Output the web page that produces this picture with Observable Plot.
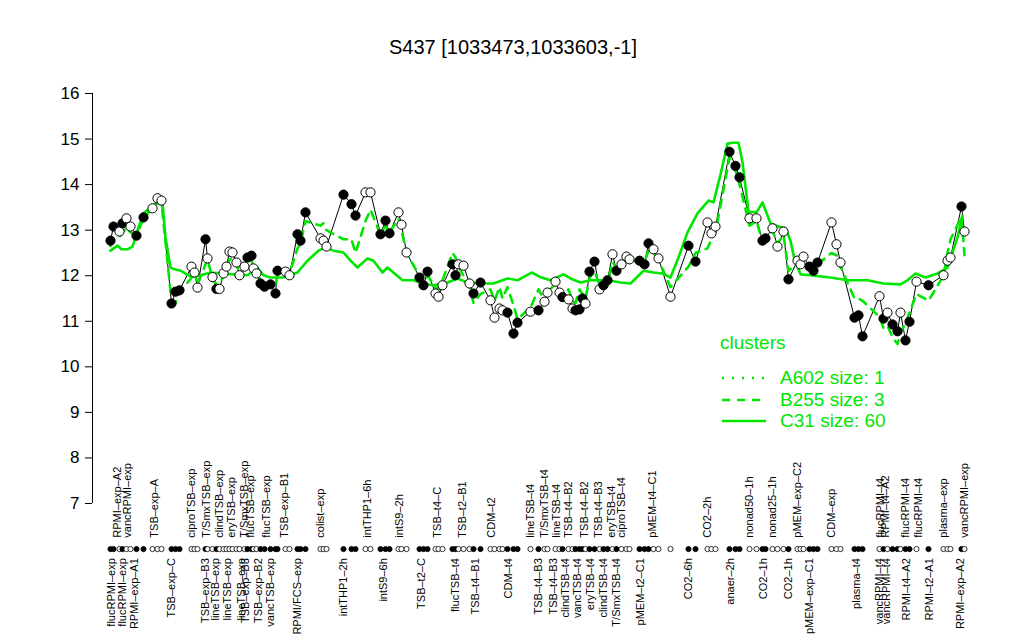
<!DOCTYPE html>
<html><head><meta charset="utf-8">
<script src="https://cdn.jsdelivr.net/npm/d3@7"></script>
<script src="https://cdn.jsdelivr.net/npm/@observablehq/plot@0.6"></script>
<style>
body{margin:0;background:#fff;font-family:"Liberation Sans",Arial,Helvetica,sans-serif;}
#wrap{position:relative;width:1024px;height:640px;overflow:hidden;}
.lg{position:absolute;color:#00e600;font-size:19px;line-height:20px;white-space:nowrap;}
.lgl{position:absolute;}
</style></head><body><div id="wrap"></div>
<script>
const title = "S437 [1033473,1033603,-1]";
const GREEN = "#00e600";

// sample positions (order along x) and values
const pos = [10,13,19,22,26,30,36,43,52,57,61,71,75,79,91,94,97,105,107,112,116,119,123,126,129,132,136,139,144,147,151,153,156,160,164,170,175,177,185,189,197,200,205,220,223,226,243,251,255,265,270,280,285,289,298,301,306,319,323,327,335,338,342,352,355,358,363,369,373,380,390,394,399,402,407,413,417,430,438,444,447,455,459,462,468,472,475,479,482,485,489,494,499,503,507,512,516,521,526,529,539,544,548,553,558,570,588,595,607,611,615,629,635,639,649,656,662,665,672,677,683,688,697,700,703,709,713,717,731,736,740,754,758,762,779,783,787,792,797,800,805,809,816,828,843,847,850,861,864];
const value = [12.77,13.08,12.97,13.15,13.26,13.08,12.88,13.28,13.48,13.70,13.65,11.39,11.65,11.68,12.20,12.07,11.74,12.80,12.38,11.97,11.71,11.71,12.05,12.20,12.53,12.51,12.29,12.01,12.20,12.40,12.44,12.16,12.05,11.83,11.76,11.81,11.61,12.11,12.09,12.01,12.91,12.77,13.39,12.82,12.77,12.64,13.78,13.57,13.32,13.83,13.83,12.91,13.21,12.93,13.39,13.12,12.51,11.96,11.79,12.09,11.61,11.54,11.79,12.25,12.01,12.25,12.22,11.83,11.61,11.85,11.46,11.08,11.28,11.24,11.19,10.73,10.97,11.21,11.24,11.43,11.63,11.87,11.63,11.53,11.48,11.28,11.24,11.26,11.50,11.39,12.09,12.31,11.70,11.79,11.90,12.47,12.11,12.25,12.42,12.36,12.33,12.25,12.71,12.58,12.38,11.54,12.66,12.31,13.17,12.93,13.08,14.72,14.41,14.16,13.26,13.26,12.77,12.82,13.04,12.64,12.97,11.92,12.33,12.25,12.42,12.20,12.11,12.29,13.17,12.69,12.29,11.08,11.13,10.67,11.55,11.06,11.19,10.93,10.78,11.19,10.58,10.99,11.87,11.79,12.01,12.33,12.40,13.52,12.97];
const filled = [1,1,0,1,0,0,1,1,0,0,0,1,1,1,0,0,0,1,0,0,1,0,0,0,0,0,0,0,0,1,1,0,0,1,1,1,1,1,0,0,1,1,1,0,0,0,1,1,1,0,0,1,1,1,0,0,0,1,1,1,0,0,0,1,1,0,0,0,1,1,0,0,0,0,1,1,1,0,1,0,0,0,0,1,0,0,1,1,1,0,1,1,0,1,1,0,1,0,0,0,1,1,1,0,0,0,1,1,0,0,0,1,1,1,0,0,1,1,0,0,0,1,0,0,0,1,1,1,0,0,0,1,1,1,0,1,0,1,1,0,1,1,0,1,0,0,0,1,0];

// cluster profiles
const b255 = [12.65,12.8,12.85,12.95,13.05,12.95,12.9,13.25,13.5,13.65,13.6,11.45,11.4,11.65,11.95,12.1,11.8,12.25,12.35,11.95,11.8,11.8,12.0,12.15,12.35,12.4,12.25,12.05,12.15,12.3,12.35,12.15,12.05,11.9,11.85,11.85,11.75,12.05,12.1,12.05,12.6,12.7,13.2,13.1,13.15,13.0,12.8,12.8,12.5,13.2,13.45,12.9,13.1,12.95,13.25,13.0,12.5,12.0,11.85,12.0,11.75,11.7,11.9,12.5,12.4,12.2,12.0,11.8,11.4,11.6,11.7,11.45,11.75,11.5,11.75,11.35,11.05,11.3,11.7,11.45,11.6,11.85,11.65,11.55,11.7,11.45,11.4,11.7,11.6,11.5,11.95,12.1,11.8,11.75,11.8,12.3,12.15,12.25,12.4,12.35,12.3,12.3,12.55,12.5,12.35,11.75,12.2,12.5,12.6,12.8,12.95,14.6,14.3,14.0,13.1,13.2,12.75,12.8,13.0,12.7,12.9,12.1,12.3,12.3,12.35,12.2,12.15,12.25,12.5,12.45,12.2,11.5,11.5,11.45,11.1,10.85,10.9,10.65,10.5,10.75,10.95,11.2,11.6,11.45,12.0,12.5,12.8,13.3,12.45];
const c31Pos = [10,17,21,27,32,35,38,43,50,57,62,65,70,74,80,90,100,110,123,133,147,157,163,170,183,197,207,218,225,233,243,250,257,267,273,282,287,302,313,322,333,347,357,367,382,393,407,417,431,441,450,463,470,480,490,507,520,530,543,553,562,570,578,587,597,608,613,620,627,632,638,642,648,656,662,670,678,685,690,694,700,710,730,747,767,783,800,807,815,825,837,847,857,862];
const c31Val = [12.55,12.66,12.58,12.58,12.64,12.84,13.06,13.37,13.50,13.59,13.59,12.84,12.18,12.14,12.11,11.98,12.01,12.07,12.05,12.03,12.01,12.18,12.01,11.96,11.96,12.07,12.33,12.55,12.62,12.55,12.51,12.33,12.18,12.38,12.33,12.07,12.18,11.90,11.90,11.83,11.79,11.85,11.94,11.85,11.83,11.83,11.94,11.90,12.07,11.96,11.90,12.03,11.94,11.85,11.90,11.90,11.85,11.83,12.11,12.07,12.05,11.96,12.40,12.95,13.37,13.65,13.61,14.22,14.90,14.92,14.92,14.49,13.41,13.39,13.61,13.15,13.08,13.04,12.77,12.36,12.03,12.01,11.96,11.90,11.90,11.83,11.81,11.90,12.05,11.96,12.05,12.18,12.84,13.32];

// axis labels along the sample strip
const topLabelText = ["RPMI\u2013exp\u2013A2","vancRPMI\u2013exp","TSB\u2013exp\u2013A","ciproTSB\u2013exp","T/SmxTSB\u2013exp","clindTSB\u2013exp","eryTSB\u2013exp","T/SmxTSB\u2013exp","flucTSB\u2013exp","flucTSB\u2013exp","TSB\u2013exp\u2013B1","colist\u2013exp","intTHP1\u20136h","intS9\u20132h","TSB\u2013t4\u2013C","TSB\u2013t2\u2013B1","CDM\u2013t2","lineTSB\u2013t4","T/SmxTSB\u2013t4","lineTSB\u2013t4","TSB\u2013t4\u2013B2","TSB\u2013t4\u2013B2","TSB\u2013t4\u2013B3","eryTSB\u2013t4","ciproTSB\u2013t4","pMEM\u2013t4\u2013C1","CO2\u20132h","nonad50\u20131h","nonad25\u20131h","pMEM\u2013exp\u2013C2","CDM\u2013exp","flucRPMI\u2013t4","RPMI\u2013t4\u2013A2","flucRPMI\u2013t4","flucRPMI\u2013t4","plasma\u2013exp","vancRPMI\u2013exp"];
const topLabelPos = [17,27,54,91,106,119,131,144,150,166,184,220,267,299,337,362,391,430,444,456,468,484,498,511,521,552,607,649,672,697,731,780,785,805,818,843,864];
const bottomLabelText = ["flucRPMI\u2013exp","flucRPMI\u2013exp","RPMI\u2013exp\u2013A1","TSB\u2013exp\u2013C","TSB\u2013exp\u2013B3","lineTSB\u2013exp","lineTSB\u2013exp","lineTSB\u2013exp","TSB\u2013exp\u2013B3","TSB\u2013exp\u2013B2","vancTSB\u2013exp","RPMI/FCS\u2013exp","intTHP1\u20132h","intS9\u20136h","TSB\u2013t2\u2013C","flucTSB\u2013t4","TSB\u2013t4\u2013B1","CDM\u2013t4","TSB\u2013t4\u2013B3","TSB\u2013t4\u2013B3","clindTSB\u2013t4","vancTSB\u2013t4","eryTSB\u2013t4","clindTSB\u2013t4","T/SmxTSB\u2013t4","pMEM\u2013t2\u2013C1","CO2\u20136h","anaer\u20132h","CO2\u20131h","CO2\u20131h","pMEM\u2013exp\u2013C1","plasma\u2013t4","vancRPMI\u2013t4","vancRPMI\u2013t4","RPMI\u2013t4\u2013A2","RPMI\u2013t2\u2013A1","RPMI\u2013exp\u2013A2"];
const bottomLabelPos = [11,22,34,71,105,115,127,141,145,158,170,197,243,283,321,355,375,408,438,453,465,477,490,503,516,540,588,630,663,688,709,756,779,786,806,829,860];

const legendNames = ["A602 size: 1","B255 size: 3","C31 size: 60"];
const legendDash = ["2,8","8,7",null];
const yTicks = [7,8,9,10,11,12,13,14,15,16];

const points = pos.map((p,i)=>({pos:p, value:value[i], filled:filled[i], b255:b255[i]}));
const c31 = c31Pos.map((p,i)=>({pos:p, value:c31Val[i]}));
const topLabels = topLabelText.map((t,i)=>({text:t, pos:topLabelPos[i]}));
const bottomLabels = bottomLabelText.map((t,i)=>({text:t, pos:bottomLabelPos[i]}));
const xDomain = [-8, 875];

const chart = Plot.plot({
  width: 1024, height: 640,
  marginLeft: 92, marginRight: 49, marginTop: 93, marginBottom: 137,
  x: {domain: xDomain, axis: null},
  y: {domain: [7, 16]},
  style: {fontFamily: "'Liberation Sans', Arial, Helvetica, sans-serif", background: "white", color: "black"},
  marks: [
    Plot.axisY(yTicks, {anchor: "left", tickSize: 7, tickPadding: 6, fontSize: 17, label: null, tickFormat: d => String(d)}),
    Plot.ruleX([xDomain[0]], {y1: yTicks[0], y2: yTicks[yTicks.length-1], stroke: "black"}),
    Plot.line(points, {x: "pos", y: "value", stroke: "black", strokeWidth: 1}),
    Plot.line(c31, {x: "pos", y: "value", stroke: GREEN, strokeWidth: 2.6}),
    Plot.line(points, {x: "pos", y: "b255", stroke: GREEN, strokeWidth: 2.6, strokeDasharray: "8,7"}),
    Plot.dot(points, {x: "pos", y: "value", r: 4.6, fill: d => d.filled ? "black" : "white", stroke: "black", strokeWidth: 1}),
    Plot.dot(points, {x: "pos", y: () => 6, r: 2.6, fill: d => d.filled ? "black" : "white", stroke: "black", strokeWidth: 0.8}),
    Plot.text(topLabels, {x: "pos", y: () => 6.25, text: "text", rotate: -90, textAnchor: "start", lineAnchor: "middle", fontSize: 11, fill: "black"}),
    Plot.text(bottomLabels, {x: "pos", y: () => 5.8, text: "text", rotate: -90, textAnchor: "end", lineAnchor: "middle", fontSize: 11, fill: "black"}),
    Plot.text([title], {frameAnchor: "top", dx: -21, dy: -46, fontSize: 20, fill: "black", lineAnchor: "middle"})
  ]
});
const wrap = document.getElementById("wrap");
wrap.appendChild(chart);

// legend
const lgTitle = document.createElement("div");
lgTitle.className = "lg"; lgTitle.style.left = "720px"; lgTitle.style.top = "333px"; lgTitle.textContent = "clusters";
wrap.appendChild(lgTitle);
legendNames.forEach((name, i) => {
  const cy = 378 + i * 21.5;
  const t = document.createElement("div");
  t.className = "lg"; t.style.left = "780px"; t.style.top = (cy - 10) + "px"; t.textContent = name;
  wrap.appendChild(t);
  const s = d3.create("svg").attr("class", "lgl").attr("width", 50).attr("height", 6)
    .style("left", "720px").style("top", (cy - 3) + "px");
  const ln = s.append("line").attr("x1", 2).attr("x2", 46).attr("y1", 3).attr("y2", 3)
    .attr("stroke", GREEN).attr("stroke-width", 2.6);
  if (legendDash[i]) ln.attr("stroke-dasharray", legendDash[i]);
  wrap.appendChild(s.node());
});
</script>
</body></html>
